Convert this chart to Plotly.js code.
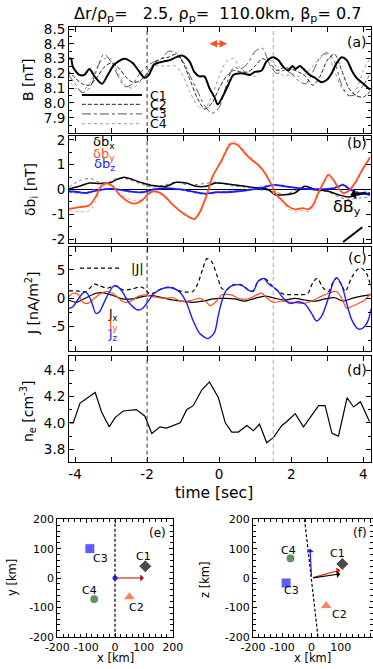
<!DOCTYPE html>
<html><head><meta charset="utf-8">
<script src="https://cdn.plot.ly/plotly-3.0.1.min.js"></script>
<style>html,body{margin:0;padding:0;background:#fff}</style>
</head><body><div id="chart" style="width:373px;height:669px"></div>
<script>
// ---------- panel (a): |B| for C1..C4 ----------
const tC1 = [-4.17,-4.11,-4.06,-3.88,-3.74,-3.60,-3.46,-3.25,-3.09,-2.91,-2.63,-2.40,-2.21,-2.07,-1.95,-1.80,-1.56,-1.37,-1.19,-1.01,-0.82,-0.69,-0.55,-0.41,-0.27,-0.13,-0.04,0.11,0.25,0.39,0.53,0.67,0.85,0.99,1.18,1.31,1.50,1.64,1.78,1.92,2.03,2.12,2.24,2.38,2.51,2.66,2.84,2.98,3.12,3.26,3.40,3.54,3.68,3.81,4.00,4.19];
const bC1 = [8.30,8.30,8.245,8.19,8.19,8.23,8.18,8.13,8.19,8.26,8.30,8.27,8.21,8.17,8.19,8.26,8.28,8.29,8.31,8.32,8.28,8.21,8.18,8.18,8.10,8.04,7.99,8.05,8.12,8.19,8.20,8.20,8.19,8.21,8.22,8.28,8.31,8.29,8.245,8.22,8.25,8.23,8.25,8.22,8.19,8.17,8.14,8.155,8.20,8.27,8.31,8.29,8.22,8.17,8.13,8.09];
const tGrid = [-4.2,-4.0,-3.8,-3.6,-3.4,-3.2,-3.0,-2.8,-2.6,-2.4,-2.2,-2.0,-1.8,-1.6,-1.4,-1.2,-1.0,-0.8,-0.6,-0.4,-0.2,0.0,0.2,0.4,0.6,0.8,1.0,1.2,1.4,1.6,1.8,2.0,2.2,2.4,2.6,2.8,3.0,3.2,3.4,3.6,3.8,4.0,4.2];
const bC2 = [8.22,8.17,8.13,8.12,8.17,8.24,8.27,8.24,8.18,8.14,8.15,8.20,8.27,8.30,8.31,8.33,8.27,8.15,8.03,7.96,8.00,8.10,8.18,8.22,8.21,8.21,8.25,8.30,8.27,8.22,8.24,8.23,8.21,8.18,8.12,8.18,8.29,8.33,8.22,8.10,8.05,8.04,8.08];
const bC3 = [8.20,8.13,8.07,8.10,8.22,8.33,8.28,8.18,8.11,8.13,8.20,8.25,8.28,8.30,8.35,8.34,8.28,8.18,8.08,7.98,7.93,7.97,8.12,8.24,8.23,8.27,8.35,8.37,8.26,8.20,8.22,8.20,8.15,8.13,8.21,8.31,8.34,8.28,8.12,8.05,8.06,8.12,8.20];
const bC4 = [8.17,8.10,8.08,8.13,8.24,8.30,8.30,8.20,8.12,8.10,8.14,8.20,8.25,8.25,8.25,8.25,8.18,8.07,7.98,7.96,8.05,8.18,8.28,8.30,8.23,8.20,8.18,8.24,8.29,8.24,8.18,8.20,8.18,8.20,8.25,8.30,8.33,8.22,8.10,8.05,8.09,8.22,8.31];
const craftNames = ['C1','C2','C3','C4'];

// ---------- panel (b): delta b components ----------
const tBY = [-4.17,-3.88,-3.6,-3.42,-3.28,-3.14,-2.95,-2.77,-2.54,-2.35,-2.12,-1.94,-1.8,-1.56,-1.29,-1.01,-0.78,-0.69,-0.55,-0.36,-0.18,0.06,0.16,0.3,0.39,0.53,0.71,0.9,1.08,1.27,1.45,1.59,1.73,1.92,2.1,2.33,2.47,2.61,2.75,2.89,3.03,3.17,3.31,3.44,3.58,3.77,3.95,4.19];
const dBY = [-0.78,-0.71,-0.63,-0.28,0.13,0.26,0.13,-0.21,-0.48,-0.57,-0.41,-0.14,-0.07,-0.21,-0.61,-0.95,-1.15,-1.19,-0.95,-0.28,0.53,1.15,1.45,1.82,1.86,1.78,1.47,1.2,1.0,0.67,0.19,-0.21,-0.41,-0.68,-0.8,-0.75,-0.8,-0.61,-0.14,0.26,0.6,0.39,0.06,-0.14,-0.07,0.26,0.74,1.3];
const dBYalt = [-0.85,-0.9,-0.85,-0.45,0.0,0.2,0.1,-0.15,-0.35,-0.45,-0.4,-0.2,-0.1,-0.25,-0.62,-0.98,-1.18,-1.22,-1.0,-0.32,0.5,1.2,1.55,1.9,1.95,1.88,1.55,1.25,1.02,0.7,0.2,-0.25,-0.5,-0.78,-0.9,-0.85,-0.9,-0.7,-0.2,0.22,0.55,0.35,0.02,-0.18,-0.1,0.2,0.7,1.25];
const tBX = [-4.17,-3.88,-3.6,-3.32,-3.05,-2.85,-2.63,-2.4,-2.12,-1.85,-1.47,-1.19,-0.91,-0.64,-0.36,-0.09,0.34,0.71,1.08,1.36,1.55,1.83,2.1,2.38,2.66,3.03,3.31,3.58,3.86,4.19];
const dBX = [0.02,0.13,0.26,0.24,0.26,0.4,0.5,0.4,0.26,0.16,0.13,0.29,0.26,0.13,0.13,0.26,0.2,0.13,0.06,0.0,-0.21,-0.21,-0.14,0.13,0.0,-0.07,-0.21,-0.3,-0.21,-0.14];
const dBXalt = [0.1,0.35,0.45,0.3,0.3,0.45,0.45,0.35,0.2,0.1,0.2,0.3,0.2,0.2,0.25,0.3,0.15,0.1,0.0,-0.05,-0.1,-0.2,-0.05,0.05,-0.05,-0.1,-0.3,-0.4,-0.35,-0.3];
const tBZ = [-4.17,-3.88,-3.7,-3.5,-3.14,-2.86,-2.5,-2.12,-1.85,-1.47,-1.2,-0.91,-0.64,-0.36,-0.09,0.16,0.53,0.9,1.27,1.5,1.83,2.2,2.56,2.93,3.2,3.44,3.63,3.86,4.19];
const dBZ = [-0.07,-0.11,-0.14,-0.07,0.02,0.02,-0.07,-0.11,0.0,0.06,0.02,-0.03,-0.11,-0.17,-0.11,-0.11,-0.07,0.0,0.1,0.19,0.13,0.06,0.02,0.02,0.06,0.19,0.0,-0.14,-0.21];
const dBZalt = [-0.12,-0.15,-0.12,-0.02,0.05,0.0,-0.1,-0.08,0.03,0.08,0.0,-0.06,-0.15,-0.2,-0.14,-0.08,-0.04,0.03,0.15,0.22,0.1,0.04,0.05,0.0,0.1,0.22,0.05,-0.1,-0.25];

// ---------- panel (c): current density ----------
const tJz = [-4.17,-4.06,-3.79,-3.69,-3.56,-3.42,-3.32,-3.14,-2.95,-2.86,-2.72,-2.49,-2.26,-2.12,-1.98,-1.80,-1.56,-1.33,-1.10,-0.92,-0.73,-0.55,-0.31,-0.13,-0.03,0.07,0.20,0.39,0.62,0.81,0.94,1.08,1.25,1.36,1.50,1.64,1.78,1.96,2.19,2.38,2.56,2.70,2.84,3.03,3.17,3.26,3.40,3.54,3.68,3.86,4.00,4.14,4.21];
const jz = [-1.8,-1.48,0.88,1.06,-0.3,-2.65,-2.36,0,2.05,2.22,1.46,-0.88,-2.06,-1.76,-0.6,0.88,1.76,1.87,1.16,-0.6,-3.83,-6.1,-7.1,-6.0,-3.2,-0.6,1.45,2.3,2.3,1.45,1.2,3.0,3.5,2.6,2.0,1.2,0.0,-0.9,-0.6,-1.0,-2.6,-4.0,-3.2,0.0,2.9,3.6,2.3,-0.9,-3.8,-5.4,-5.2,-3.8,-1.8];
const tJx = [-4.17,-3.97,-3.69,-3.42,-3.23,-2.95,-2.68,-2.4,-2.12,-1.85,-1.56,-1.29,-1.01,-0.73,-0.45,-0.18,0.06,0.16,0.43,0.71,0.99,1.27,1.55,1.83,2.1,2.38,2.66,2.94,3.21,3.44,3.68,3.95,4.21];
const jx = [-0.3,-0.7,0.1,0.9,1.0,0.5,-0.1,-0.1,0.3,0.5,0.1,-0.3,-0.5,-0.7,-0.5,-0.1,0.0,0.0,-0.1,-0.5,0.0,0.4,0.0,-0.3,0.0,-0.3,-0.5,-0.1,0.1,-0.5,0.0,0.4,0.6];
const tJy = [-4.17,-4.06,-3.92,-3.79,-3.65,-3.46,-3.32,-3.14,-2.95,-2.77,-2.63,-2.45,-2.26,-2.08,-1.85,-1.56,-1.29,-1.01,-0.73,-0.55,-0.36,-0.25,-0.09,0.06,0.16,0.34,0.53,0.81,1.04,1.18,1.32,1.5,1.73,2.01,2.29,2.52,2.75,3.03,3.26,3.4,3.54,3.67,3.86,4.04,4.21];
const jy = [0.3,0.9,0.7,-0.7,-0.9,0.0,0.7,1.2,0.9,-0.1,-0.7,-0.5,0.3,0.6,0.3,0.0,0.1,-0.6,-0.3,0.0,-0.6,-1.3,-0.6,0.6,0.7,0.6,0.0,-0.1,0.6,0.9,0.1,-0.7,-0.5,-0.7,-0.9,-0.6,0.1,0.9,1.2,0.0,-1.75,-1.45,-0.9,-0.3,0.9];
const tJabs = [-4.17,-3.95,-3.7,-3.46,-3.32,-3.09,-2.9,-2.68,-2.45,-2.17,-2.03,-1.94,-1.8,-1.56,-1.33,-1.1,-0.92,-0.73,-0.6,-0.45,-0.34,-0.2,-0.06,0.08,0.2,0.39,0.62,0.81,0.94,1.08,1.25,1.5,1.64,1.8,1.96,2.2,2.45,2.6,2.72,2.89,3.03,3.17,3.26,3.4,3.5,3.68,3.86,3.95,4.09,4.21];
const jabs = [1.3,1.3,1.2,2.5,2.2,1.8,2.25,1.5,1.6,2.0,1.5,0.8,1.0,1.8,1.95,1.3,1.1,1.2,2.5,5.3,7.0,6.4,4.0,1.7,1.5,2.4,2.4,1.5,1.3,3.0,3.55,2.0,1.3,0.7,0.65,0.65,0.8,2.8,3.5,1.8,1.2,3.0,3.6,2.3,1.2,3.7,5.2,5.3,4.4,2.0];

// ---------- panel (d): electron density ----------
const tNe = [-4.14,-4.05,-3.86,-3.44,-3.26,-3.05,-2.89,-2.66,-2.3,-2.06,-1.87,-1.64,-1.46,-1.08,-0.9,-0.72,-0.48,-0.27,-0.02,0.17,0.35,0.53,0.77,0.95,1.12,1.32,1.51,1.74,1.88,2.11,2.34,2.57,2.76,2.94,3.13,3.31,3.55,3.73,3.92,4.17];
const ne = [4.0,4.0,4.15,4.23,4.08,3.97,4.04,4.09,4.10,4.05,3.92,3.97,3.96,4.0,4.1,4.13,4.25,4.31,4.19,4.0,3.93,3.93,3.98,3.94,3.99,3.85,3.89,3.98,4.01,4.07,3.97,4.06,4.13,4.13,3.92,3.90,4.19,4.12,4.16,4.01];

// ---------- panels (e),(f): spacecraft configuration [km] ----------
const scX = [105, 50, -87, -72];
const scY = [40, -65, 100, -72];
const scZ = [48, -95, -17, 67];
const vecE_x = [100], vecE_y = [0];
const vecF_x = [-5, 98, 98], vecF_z = [100, 27, 14];
const planeF_x = [-24, 22], planeF_z = [200, -200];
const planeE_x = [0, 0], planeE_y = [-200, 200];

// ---------- styling ----------
const ORANGE = '#ff5020', BLUE = '#1a1aff', GREEN = '#1b6b1b';
const scColors = ['#000000', ORANGE, BLUE, GREEN];
const scSymbols = ['diamond', 'triangle-up', 'square', 'circle'];
const scSizes = [10, 11, 10, 9];

function ln(x, y, xa, ya, color, width, dash, shape) {
  return {type:'scatter', mode:'lines', x:x, y:y, xaxis:xa, yaxis:ya, hoverinfo:'skip',
    line:{color:color, width:width, dash:dash||'solid', shape:shape||'spline', smoothing:0.8}};
}
const traces = [
  ln(tGrid, bC4, 'x', 'y', '#9a9a9a', 1, 'dot'),
  ln(tGrid, bC3, 'x', 'y', '#555555', 1, 'dashdot'),
  ln(tGrid, bC2, 'x', 'y', '#222222', 1, '4px,2px'),
  ln(tC1, bC1, 'x', 'y', '#000000', 2),
  ln(tBX, dBXalt, 'x2', 'y2', '#777777', 1, 'dot'),
  ln(tBZ, dBZalt, 'x2', 'y2', '#8c8cff', 1, 'dot'),
  ln(tBY, dBYalt, 'x2', 'y2', '#ff9a7a', 1, 'dot'),
  ln(tBX, dBX, 'x2', 'y2', '#000000', 1.5),
  ln(tBZ, dBZ, 'x2', 'y2', BLUE, 1.8),
  ln(tBY, dBY, 'x2', 'y2', ORANGE, 1.8),
  ln(tJabs, jabs, 'x3', 'y3', '#000000', 1.2, '4px,3px'),
  ln(tJx, jx, 'x3', 'y3', '#000000', 1.2),
  ln(tJy, jy, 'x3', 'y3', ORANGE, 1.2),
  ln(tJz, jz, 'x3', 'y3', BLUE, 1.4),
  ln(tNe, ne, 'x4', 'y4', '#000000', 1.2, 'solid', 'linear'),
  ln(planeE_x, planeE_y, 'x5', 'y5', '#000000', 1.2, '3px,2px', 'linear'),
  ln(planeF_x, planeF_z, 'x6', 'y6', '#000000', 1.2, '3px,2px', 'linear'),
  {type:'scatter', mode:'markers', x:scX, y:scY, xaxis:'x5', yaxis:'y5', hoverinfo:'skip',
    marker:{symbol:scSymbols, color:scColors, size:scSizes}},
  {type:'scatter', mode:'markers', x:scX, y:scZ, xaxis:'x6', yaxis:'y6', hoverinfo:'skip',
    marker:{symbol:scSymbols, color:scColors, size:scSizes}},
  {type:'scatter', mode:'markers', x:[0], y:[0], xaxis:'x5', yaxis:'y5', hoverinfo:'skip',
    marker:{symbol:'circle', color:BLUE, size:5}}
];

const H = 669, W = 373;
const py = (top, bot) => [1 - bot / H, 1 - top / H];
const base = {showline:true, linecolor:'#000', linewidth:1, mirror:'ticks', ticks:'inside', ticklen:5,
  tickwidth:1, tickcolor:'#000', showgrid:false, zeroline:false, tickfont:{size:13.5, color:'#000'}};
const tX = [-4,-3,-2,-1,0,1,2,3,4];
const tXtxt = ['-4','','-2','','0','','2','','4'];
const xdom = [69/W, 370.7/W];
function xAx(anchor, labels) {
  return Object.assign({}, base, {domain:xdom, range:[-4.167,4.205], tickvals:tX, ticktext:tXtxt,
    showticklabels:labels, anchor:anchor});
}
const minorStyle = (dt, t0) => ({dtick:dt, tick0:t0, ticks:'inside', ticklen:3, tickcolor:'#000'});
const kmTicks = [-200,-100,0,100,200];
const kmTxt = ['-200','-100','0','100','200'];
function kmAx(dom, rng, anchor) {
  return Object.assign({}, base, {domain:dom, range:rng, tickvals:kmTicks, ticktext:kmTxt, anchor:anchor,
    tickfont:{size:11, color:'#000'}, ticklen:4, minor:minorStyle(20, 0)});
}

const layout = {
  width:W, height:H, margin:{l:0,r:0,t:0,b:0}, showlegend:false,
  paper_bgcolor:'#fff', plot_bgcolor:'#fff',
  font:{family:'DejaVu Sans, sans-serif', size:13, color:'#000'},
  xaxis: xAx('y', false),
  yaxis: Object.assign({}, base, {domain:py(27,133), range:[7.797,8.514], anchor:'x',
    tickvals:[7.9,8.0,8.1,8.2,8.3,8.4,8.5], ticktext:['7.9','8.0','8.1','8.2','8.3','8.4','8.5'], minor:minorStyle(0.05,7.8)}),
  xaxis2: xAx('y2', false),
  yaxis2: Object.assign({}, base, {domain:py(136,243.3), range:[-2.17,2.16], anchor:'x2',
    tickvals:[-2,-1,0,1,2], ticktext:['-2','-1','0','1','2'], minor:minorStyle(0.5,0),
    zeroline:true, zerolinecolor:'#000', zerolinewidth:1.2}),
  xaxis3: xAx('y3', false),
  yaxis3: Object.assign({}, base, {domain:py(246.7,351), range:[-9.29,9.1], anchor:'x3',
    tickvals:[-5,0,5], ticktext:['-5','0','5'], minor:minorStyle(2.5,0)}),
  xaxis4: xAx('y4', true),
  yaxis4: Object.assign({}, base, {domain:py(356,461.7), range:[3.706,4.506], anchor:'x4',
    tickvals:[3.8,4.0,4.2,4.4], ticktext:['3.8','4.0','4.2','4.4'], minor:minorStyle(0.1,3.7)}),
  xaxis5: kmAx([57.3/W, 172.7/W], [-200,200], 'y5'),
  yaxis5: kmAx(py(519.3,636.7), [-200,200], 'x5'),
  xaxis6: kmAx([253/W, 1], [-200,210], 'y6'),
  yaxis6: kmAx(py(519.3,636.7), [-200,200], 'x6'),
  shapes: [], annotations: []
};

// vertical event lines
[['x','y'],['x2','y2'],['x3','y3'],['x4','y4']].forEach(([xa,ya]) => {
  layout.shapes.push({type:'line', xref:xa, yref:ya+' domain', x0:-2, x1:-2, y0:0, y1:1, line:{color:'#333', width:1, dash:'4px,3px'}});
  layout.shapes.push({type:'line', xref:xa, yref:ya+' domain', x0:1.5, x1:1.5, y0:0, y1:1, line:{color:'#aaa', width:1, dash:'4px,3px'}});
});
const A = layout.annotations;
const note = (o) => A.push(Object.assign({showarrow:false, xanchor:'center', yanchor:'middle', borderpad:0}, o));
// legend of panel (a)
const legA = [[8.054,'solid','#000',2],[7.991,'4px,2px','#222',1],[7.926,'dashdot','#555',1],[7.86,'dot','#9a9a9a',1]];
legA.forEach((l,i) => {
  layout.shapes.push({type:'line', xref:'x', yref:'y', x0:-3.81, x1:-2.14, y0:l[0], y1:l[0], line:{color:l[2], width:l[3], dash:l[1]}});
  note({xref:'x', yref:'y', x:-1.67, y:l[0], text:craftNames[i], font:{size:12.5}});
});
// legend of panel (c)
layout.shapes.push({type:'line', xref:'x3', yref:'y3', x0:-3.86, x1:-2.75, y0:5.34, y1:5.34, line:{color:'#000', width:1.2, dash:'4px,3px'}});
note({xref:'x3', yref:'y3', x:-2.28, y:5.34, text:'|J|', font:{size:13}});
note({xref:'x3', yref:'y3', x:-2.94, y:-2.95, text:'J<sub>x</sub>', font:{size:12, color:'#000'}});
note({xref:'x3', yref:'y3', x:-2.94, y:-4.7, text:'J<sub>y</sub>', font:{size:12, color:ORANGE}});
note({xref:'x3', yref:'y3', x:-2.94, y:-6.47, text:'J<sub>z</sub>', font:{size:12, color:BLUE}});
// legend of panel (b)
note({xref:'x2', yref:'y2', x:-3.19, y:1.88, text:'δb<sub>x</sub>', font:{size:13, color:'#000'}});
note({xref:'x2', yref:'y2', x:-3.19, y:1.43, text:'δb<sub>y</sub>', font:{size:13, color:ORANGE}});
note({xref:'x2', yref:'y2', x:-3.19, y:0.99, text:'δb<sub>z</sub>', font:{size:13, color:BLUE}});
// hand-drawn marker in (b)
A.push({xref:'x2', yref:'y2', x:3.64, y:-0.22, ax:17, ay:-3, text:'', showarrow:true, arrowhead:1, arrowsize:1.2, arrowwidth:1.5, arrowcolor:'#000'});
note({xref:'x2', yref:'y2', x:3.56, y:-0.72, text:'δB<sub>y</sub>', font:{size:16, color:'#000'}});
layout.shapes.push({type:'line', xref:'x2', yref:'y2', x0:3.44, x1:3.97, y0:-2.12, y1:-1.52, line:{color:'#000', width:2}});
// orange double arrow in (a)
A.push({xref:'x', yref:'y', axref:'x', ayref:'y', x:0.22, y:8.4, ax:-0.31, ay:8.4, text:'', showarrow:true,
  arrowside:'end+start', arrowhead:2, arrowsize:1, arrowwidth:1.5, arrowcolor:ORANGE});
// panel labels
const lab = (txt, x, y, size) => note({xref:'paper', yref:'paper', x:x/W, y:1-y/H, text:txt, font:{size:size||14}});
lab('(a)', 357, 42); lab('(b)', 357, 143); lab('(c)', 357, 258); lab('(d)', 357, 370);
lab('(e)', 157, 533, 12); lab('(f)', 360, 533, 12);
// titles
lab('Δr/ρ<sub>p</sub>=\u00a0\u00a0 2.5, ρ<sub>p</sub>=\u00a0 110.0km, β<sub>p</sub>= 0.7', 218, 15, 16);
lab('time [sec]', 214, 493, 15.5);
const ylab = (txt, x, y, size) => note({xref:'paper', yref:'paper', x:x/W, y:1-y/H, text:txt, textangle:-90, font:{size:size||14}});
ylab('B [nT]', 28, 80); ylab('δb<sub>i</sub> [nT]', 31, 190); ylab('J [nA/m<sup>2</sup>]', 32, 303); ylab('n<sub>e</sub> [cm<sup>-3</sup>]', 28, 411);
ylab('y [km]', 12, 578, 11.5); ylab('z [km]', 205, 580, 11.5);
lab('x [km]', 115, 658, 11.5); lab('x [km]', 312, 658, 11.5);
// spacecraft labels in (e) and (f)
const labE = [[98,73],[75,-101],[-52,67],[-87,-41]];
const labF = [[90,84],[96,-126],[-69,-43],[-80,93]];
labE.forEach((p,i) => note({xref:'x5', yref:'y5', x:p[0], y:p[1], text:craftNames[i], font:{size:11}}));
labF.forEach((p,i) => note({xref:'x6', yref:'y6', x:p[0], y:p[1], text:craftNames[i], font:{size:11}}));
// normal/velocity vectors
vecE_x.forEach((vx,i) => A.push({xref:'x5', yref:'y5', axref:'x5', ayref:'y5', x:vx, y:vecE_y[i], ax:0, ay:0, text:'', showarrow:true, arrowhead:1, arrowsize:1, arrowwidth:1.2, arrowcolor:'#c00000'}));
const vecFcol = [BLUE, '#e02000', '#000'];
vecF_x.forEach((vx,i) => A.push({xref:'x6', yref:'y6', axref:'x6', ayref:'y6', x:vx, y:vecF_z[i], ax:0, ay:0, text:'', showarrow:true, arrowhead:1, arrowsize:1, arrowwidth:1.2, arrowcolor:vecFcol[i]}));

Plotly.newPlot('chart', traces, layout, {staticPlot:true, displayModeBar:false});
</script></body></html>
